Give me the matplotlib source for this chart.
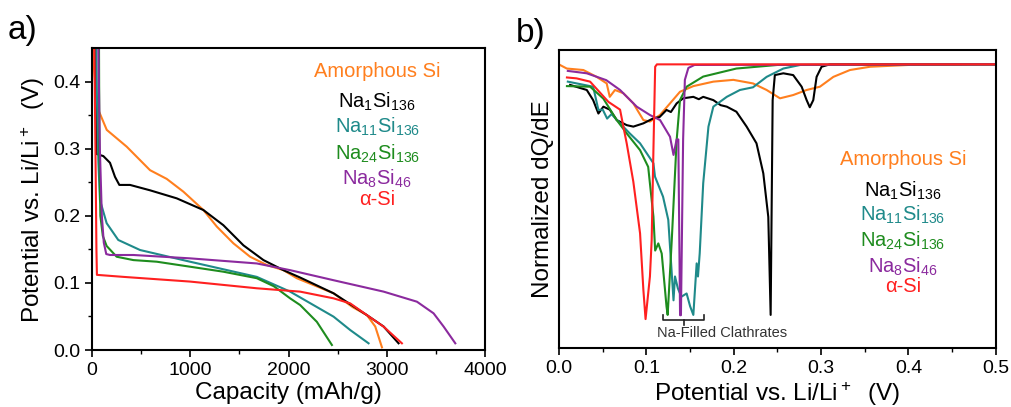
import numpy as np
import matplotlib
matplotlib.use("Agg")
import matplotlib.pyplot as plt

plt.rcParams["font.family"] = ["Liberation Sans", "DejaVu Sans"]
plt.rcParams["mathtext.fontset"] = "custom"
plt.rcParams["mathtext.rm"] = "Liberation Sans"
plt.rcParams["mathtext.it"] = "Liberation Sans:italic"

# sample names / colours
names = ["Amorphous Si", r"Na$_{1}$Si$_{136}$", r"Na$_{11}$Si$_{136}$",
         r"Na$_{24}$Si$_{136}$", r"Na$_{8}$Si$_{46}$", "α-Si"]
colors = ["#FF7F1E", "#000000", "#1F8A8A", "#1E8C1E", "#8B2A9E", "#FF2020"]

# ---- a) voltage profiles, capacity (mAh/g) vs potential (V)
amor_cap = [14, 20, 40, 64, 150, 353, 590, 760, 929, 1133, 1269, 1438, 1608,
            1778, 1947, 2083, 2300, 2457, 2650, 2796, 2881, 2949]
amor_v = [0.50, 0.42, 0.38, 0.358, 0.328, 0.303, 0.268, 0.255, 0.236, 0.2086,
          0.184, 0.159, 0.139, 0.1267, 0.119, 0.107, 0.094, 0.0845, 0.064,
          0.052, 0.035, 0.004]
na1_cap = [25, 35, 48, 115, 183, 234, 278, 387, 590, 862, 1133, 1336, 1540,
           1744, 1947, 2117, 2457, 2796, 2966, 3118]
na1_v = [0.50, 0.40, 0.292, 0.289, 0.279, 0.258, 0.246, 0.246, 0.238, 0.226,
         0.2086, 0.186, 0.156, 0.134, 0.119, 0.108, 0.0845, 0.052, 0.035,
         0.010]
na11_cap = [40, 50, 65, 81, 149, 267, 489, 997, 1676, 2015, 2457, 2626, 2813]
na11_v = [0.50, 0.38, 0.28, 0.2235, 0.189, 0.164, 0.149, 0.1316, 0.109,
          0.087, 0.0497, 0.0298, 0.010]
na24_cap = [70, 75, 85, 110, 149, 251, 421, 658, 1336, 1676, 1850, 2015, 2117,
            2287, 2440]
na24_v = [0.50, 0.30, 0.20, 0.170, 0.155, 0.139, 0.134, 0.1316, 0.1167, 0.107,
          0.095, 0.077, 0.067, 0.042, 0.0075]
na8_cap = [60, 80, 100, 120, 145, 183, 421, 997, 1676, 2015, 2457, 2966, 3305,
           3474, 3576, 3695]
na8_v = [0.50, 0.30, 0.20, 0.16, 0.143, 0.1416, 0.1416, 0.1366, 0.129, 0.119,
         0.104, 0.087, 0.072, 0.0547, 0.035, 0.010]
asi_cap = [20, 35, 45, 50, 319, 997, 1676, 2117, 2457, 2626, 2796, 2966, 3152]
asi_v = [0.50, 0.30, 0.15, 0.112, 0.109, 0.102, 0.092, 0.087, 0.077, 0.0695,
         0.052, 0.0348, 0.010]

# ---- b) normalized dQ/dE vs potential (V)
amor_e = [0.001, 0.0088, 0.0278, 0.043, 0.0545, 0.058, 0.064, 0.0736, 0.085,
          0.0965, 0.104, 0.1155, 0.127, 0.1384, 0.1537, 0.1766, 0.1995, 0.222,
          0.2376, 0.2529, 0.268, 0.2834, 0.2986, 0.314, 0.333, 0.356, 0.40, 0.46]
amor_q = [0.950, 0.938, 0.933, 0.910, 0.888, 0.843, 0.866, 0.855, 0.821,
          0.765, 0.760, 0.782, 0.821, 0.860, 0.879, 0.894, 0.900, 0.888,
          0.866, 0.838, 0.849, 0.866, 0.877, 0.910, 0.933, 0.944, 0.950, 0.952]
na1_e = [0.0126, 0.0317, 0.039, 0.045, 0.0507, 0.058, 0.066, 0.0774, 0.085,
         0.0965, 0.108, 0.115, 0.123, 0.128, 0.1346, 0.142, 0.1537, 0.160,
         0.165, 0.1766, 0.185, 0.192, 0.203, 0.2147, 0.226, 0.2338, 0.2395,
         0.2422, 0.2445, 0.247, 0.2567, 0.268, 0.2777, 0.2834, 0.287, 0.291,
         0.2948, 0.3005, 0.31, 0.5]
na1_q = [0.883, 0.866, 0.832, 0.787, 0.810, 0.800, 0.765, 0.748, 0.743,
         0.754, 0.771, 0.775, 0.799, 0.792, 0.821, 0.838, 0.843, 0.835,
         0.843, 0.832, 0.815, 0.810, 0.793, 0.743, 0.687, 0.586, 0.440,
         0.111, 0.832, 0.916, 0.922, 0.916, 0.877, 0.832, 0.808, 0.832,
         0.910, 0.944, 0.952, 0.952]
na11_e = [0.010, 0.039, 0.045, 0.050, 0.055, 0.060, 0.0698, 0.081, 0.0927,
          0.108, 0.1098, 0.119, 0.125, 0.129, 0.131, 0.1327, 0.136, 0.140,
          0.146, 0.150, 0.1537, 0.1575, 0.159, 0.161, 0.165, 0.171, 0.1766,
          0.192, 0.207, 0.222, 0.2376, 0.2567, 0.276, 0.5]
na11_q = [0.894, 0.877, 0.799, 0.800, 0.770, 0.785, 0.754, 0.720, 0.687,
          0.620, 0.575, 0.508, 0.430, 0.250, 0.160, 0.240, 0.200, 0.172,
          0.183, 0.140, 0.111, 0.284, 0.240, 0.318, 0.553, 0.743, 0.810,
          0.843, 0.866, 0.875, 0.910, 0.938, 0.950, 0.952]
na24_e = [0.009, 0.0355, 0.0507, 0.066, 0.0775, 0.0927, 0.102, 0.108, 0.110,
          0.1136, 0.1175, 0.123, 0.1243, 0.129, 0.1346, 0.1384, 0.146, 0.165,
          0.203, 0.25, 0.5]
na24_q = [0.879, 0.877, 0.837, 0.765, 0.720, 0.664, 0.608, 0.441, 0.327,
          0.351, 0.317, 0.139, 0.111, 0.362, 0.698, 0.832, 0.877, 0.911,
          0.938, 0.950, 0.952]
na8_e = [0.010, 0.0317, 0.054, 0.0698, 0.0889, 0.104, 0.1156, 0.127, 0.131,
         0.1346, 0.1365, 0.1385, 0.1395, 0.142, 0.144, 0.148, 0.155, 0.5]
na8_q = [0.930, 0.922, 0.899, 0.866, 0.810, 0.782, 0.765, 0.709, 0.648,
         0.700, 0.700, 0.110, 0.110, 0.700, 0.900, 0.940, 0.950, 0.952]
asi_e = [0.009, 0.020, 0.0355, 0.0565, 0.0698, 0.0736, 0.0774, 0.085, 0.0927,
         0.0965, 0.099, 0.104, 0.106, 0.108, 0.110, 0.112, 0.5]
asi_q = [0.908, 0.905, 0.894, 0.826, 0.800, 0.743, 0.687, 0.558, 0.385,
         0.195, 0.097, 0.240, 0.362, 0.664, 0.944, 0.952, 0.952]

# bracket for "Na-Filled Clathrates"
brk_x = [0.119, 0.119, 0.166, 0.166]
brk_y = [0.111, 0.094, 0.094, 0.111]
brk_mid_x = [0.1425, 0.1425]
brk_mid_y = [0.094, 0.078]

fig = plt.figure(figsize=(10.11, 4.07), dpi=100)
axa = fig.add_axes([0.091, 0.140, 0.389, 0.742])
axb = fig.add_axes([0.553, 0.145, 0.432, 0.732])

lw = 1.5
curves_a = [(amor_cap, amor_v), (na1_cap, na1_v), (na11_cap, na11_v),
            (na24_cap, na24_v), (na8_cap, na8_v), (asi_cap, asi_v)]
for (x, y), c in zip(curves_a, colors):
    axa.plot(x, y, color=c, lw=lw)

curves_b = [(amor_e, amor_q), (na1_e, na1_q), (na11_e, na11_q),
            (na24_e, na24_q), (na8_e, na8_q), (asi_e, asi_q)]
for (x, y), c in zip(curves_b, colors):
    axb.plot(x, y, color=c, lw=lw)

axb.plot(brk_x, brk_y, color="#222222", lw=1.2)
axb.plot(brk_mid_x, brk_mid_y, color="#222222", lw=1.2)
axb.text(0.187, 0.049, "Na-Filled Clathrates", ha="center", va="center",
         fontsize=10.5, color="#333333")

axa.set_xlim(0, 4000)
axa.set_ylim(0, 0.45)
axa.set_xticks([0, 1000, 2000, 3000, 4000])
axa.set_xticks(np.arange(500, 4000, 1000), minor=True)
axa.set_yticks([0.0, 0.1, 0.2, 0.3, 0.4])
axa.set_yticks([0.05, 0.15, 0.25, 0.35], minor=True)
axa.set_yticklabels(["0.0", "0.1", "0.2", "0.3", "0.4"])

axb.set_xlim(0, 0.5)
axb.set_ylim(0, 1)
axb.set_xticks([0.0, 0.1, 0.2, 0.3, 0.4, 0.5])
axb.set_xticklabels(["0.0", "0.1", "0.2", "0.3", "0.4", "0.5"])
axb.set_xticks([0.05, 0.15, 0.25, 0.35, 0.45], minor=True)
axb.set_yticks([])

for ax in (axa, axb):
    for sp in ax.spines.values():
        sp.set_linewidth(1.5)
    ax.tick_params(which="major", direction="out", length=5, width=1.2,
                   labelsize=14)
    ax.tick_params(which="minor", direction="out", length=3, width=1.0)

axa.set_xlabel("Capacity (mAh/g)", fontsize=17.5)
axa.xaxis.set_label_coords(0.50, -0.105)
axa.set_ylabel(r"Potential vs. Li/Li$^+$  (V)", fontsize=17.5)
axa.yaxis.set_label_coords(-0.115, 0.497)

axb.set_xlabel(r"Potential vs. Li/Li$^+$  (V)", fontsize=17.5)
axb.xaxis.set_label_coords(0.499, -0.107)
axb.set_ylabel("Normalized dQ/dE", fontsize=17.5)
axb.yaxis.set_label_coords(-0.011, 0.50)

# text legends
ya = [0.921, 0.834, 0.752, 0.662, 0.579, 0.497]
yb = [0.634, 0.540, 0.460, 0.372, 0.285, 0.205]
for i, (n, c) in enumerate(zip(names, colors)):
    off = 0.0 if i in (0, 5) else -0.012
    axa.text(0.725, ya[i] + off, n, color=c, fontsize=14.5, ha="center",
             va="center", transform=axa.transAxes)
    axb.text(0.787, yb[i] + off, n, color=c, fontsize=14.5, ha="center",
             va="center", transform=axb.transAxes)

fig.text(0.008, 0.925, "a)", fontsize=24, va="center")
fig.text(0.510, 0.918, "b)", fontsize=24, va="center")

fig.savefig("out.png", dpi=100)
